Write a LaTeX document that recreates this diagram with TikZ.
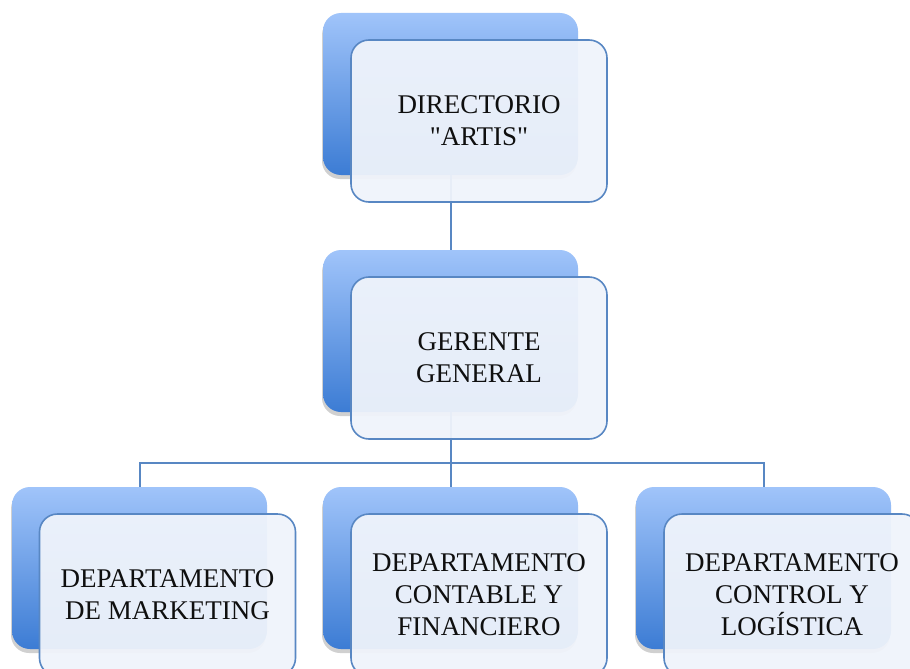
\documentclass[tikz,border=0pt]{standalone}
\usepackage{fontspec}
\setmainfont{Liberation Serif}[Ligatures=TeXOff]
\usetikzlibrary{shadows,calc}
\definecolor{backtop}{RGB}{160,196,250}
\definecolor{backbot}{RGB}{60,124,212}
\definecolor{frontfill}{RGB}{240,244,251}
\definecolor{edgeblue}{RGB}{88,135,195}
\definecolor{txt}{RGB}{15,15,15}
\tikzset{
  backbox/.style={rounded corners=18pt, minimum width=255pt, minimum height=162pt,
    top color=backtop, bottom color=backbot, draw=none, inner sep=0pt,
    drop shadow={shadow xshift=-1pt, shadow yshift=-4pt, opacity=0.3, fill=black!60}},
  frontbox/.style={rounded corners=18pt, minimum width=256pt, minimum height=162pt,
    draw=edgeblue, line width=1.6pt, fill=frontfill, fill opacity=0.94, text opacity=1,
    text=txt, align=center, inner sep=0pt, font=\fontsize{27}{32}\selectfont},
  conn/.style={draw=edgeblue, line width=2pt}
}
\begin{document}
\begin{tikzpicture}[x=1pt,y=-1pt]
\clip (0,0) rectangle (910,669);
\fill[white] (0,0) rectangle (910,669);
% back boxes
\node[backbox] (b1) at (450.5,94) {};
\node[backbox] (b2) at (450.5,331) {};
\node[backbox] (b3) at (139.5,568) {};
\node[backbox] (b4) at (450.5,568) {};
\node[backbox] (b5) at (763.5,568) {};
% connectors
\coordinate (j) at (450.5,463);
\draw[conn] (b1.south) -- (b2.north);
\draw[conn] (b2.south) -- (j);
\draw[conn] (b3.north) |- (j) -| (b5.north);
\draw[conn] (j) -- (b4.north);
% front boxes
\node[frontbox] (f1) at (479,121) {DIRECTORIO\\"ARTIS"};
\node[frontbox] (f2) at (479,358) {GERENTE\\GENERAL};
\node[frontbox] (f3) at (167.5,595) {DEPARTAMENTO\\DE MARKETING};
\node[frontbox] (f4) at (479,595) {DEPARTAMENTO\\CONTABLE Y\\FINANCIERO};
\node[frontbox] (f5) at (792,595) {DEPARTAMENTO\\CONTROL Y\\LOGÍSTICA};
\end{tikzpicture}
\end{document}
